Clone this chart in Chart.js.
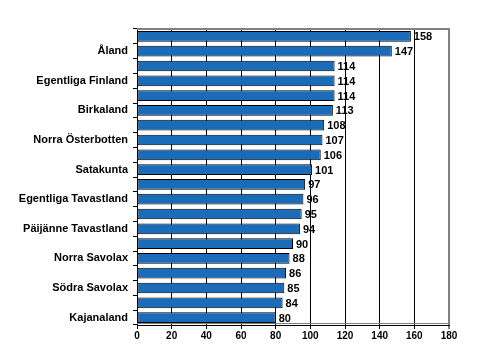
<!DOCTYPE html>
<html>
<head>
<meta charset="utf-8">
<script src="https://cdn.jsdelivr.net/npm/chart.js@4/dist/chart.umd.min.js"></script>
<style>
  html, body { margin: 0; padding: 0; background: #ffffff; }
  #wrap { width: 504px; height: 349px; }
</style>
</head>
<body>
<div id="wrap"><canvas id="c" width="504" height="349"></canvas></div>
<script>
// Regions, ranked by index value (only every second name is printed on the axis)
const regions = [
  'Nyland', 'Åland', 'Östra Nyland', 'Egentliga Finland', 'Österbotten',
  'Birkaland', 'Kymmenedalen', 'Norra Österbotten', 'Södra Karelen', 'Satakunta',
  'Mellersta Finland', 'Egentliga Tavastland', 'Mellersta Österbotten', 'Päijänne Tavastland', 'Lappland',
  'Norra Savolax', 'Södra Österbotten', 'Södra Savolax', 'Norra Karelen', 'Kajanaland'
];
const indexValues = [158, 147, 114, 114, 114, 113, 108, 107, 106, 101, 97, 96, 95, 94, 90, 88, 86, 85, 84, 80];
const xTicks = [0, 20, 40, 60, 80, 100, 120, 140, 160, 180];

const FONT = "'Liberation Sans', Arial, sans-serif";

// Value labels at the end of each bar
const valueLabels = {
  id: 'valueLabels',
  afterDatasetsDraw(chart) {
    const ctx = chart.ctx;
    const meta = chart.getDatasetMeta(0);
    ctx.save();
    ctx.font = 'bold 11px ' + FONT;
    ctx.fillStyle = '#000000';
    ctx.textAlign = 'left';
    ctx.textBaseline = 'middle';
    meta.data.forEach((bar, i) => {
      ctx.fillText(String(chart.data.datasets[0].data[i]), bar.x + 3, bar.y + 1);
    });
    ctx.restore();
  }
};

// Grey frame along the top and bottom of the plot area
const plotFrame = {
  id: 'plotFrame',
  beforeDatasetsDraw(chart) {
    const { ctx, chartArea: a } = chart;
    ctx.save();
    ctx.strokeStyle = '#808080';
    ctx.lineWidth = 2;
    ctx.beginPath();
    ctx.moveTo(a.left, a.top);
    ctx.lineTo(a.right + 1, a.top);
    ctx.stroke();
    ctx.lineWidth = 1;
    ctx.beginPath();
    ctx.moveTo(a.left, a.bottom - 1.5);
    ctx.lineTo(a.right, a.bottom - 1.5);
    ctx.stroke();
    ctx.restore();
  }
};

new Chart(document.getElementById('c'), {
  type: 'bar',
  data: {
    labels: regions,
    datasets: [{
      data: indexValues,
      backgroundColor: '#1a6bb8',
      borderColor: '#000000',
      borderWidth: 1,
      borderSkipped: false,
      barPercentage: 0.72,
      categoryPercentage: 1.0
    }]
  },
  options: {
    indexAxis: 'y',
    responsive: false,
    animation: false,
    devicePixelRatio: 1,
    layout: { padding: { top: 29, right: 55, left: 0, bottom: 0 } },
    plugins: {
      legend: { display: false },
      tooltip: { enabled: false }
    },
    scales: {
      x: {
        min: 0,
        max: 180,
        afterBuildTicks(scale) { scale.ticks = xTicks.map(v => ({ value: v })); },
        afterFit(scale) { scale.height = 24; },
        grid: {
          color: (c) => (c.tick && c.tick.value === 180 ? '#808080' : '#000000'),
          lineWidth: (c) => (c.tick && c.tick.value === 180 ? 2 : 1),
          tickLength: 4,
          drawTicks: true
        },
        border: { display: true, color: '#000000', width: 1 },
        ticks: {
          color: '#000000',
          font: { family: FONT, size: 10, weight: 'bold' },
          padding: 1,
          maxRotation: 0
        }
      },
      y: {
        afterFit(scale) { scale.width = 137; },
        grid: {
          drawOnChartArea: false,
          drawTicks: true,
          tickLength: 4,
          offset: true,
          color: '#000000'
        },
        border: { display: true, color: '#000000', width: 1 },
        ticks: {
          autoSkip: false,
          color: '#000000',
          font: { family: FONT, size: 11, weight: 'bold' },
          padding: 5,
          callback: function (value, index) {
            return index % 2 === 1 ? this.getLabelForValue(value) : '';
          }
        }
      }
    }
  },
  plugins: [plotFrame, valueLabels]
});
</script>
</body>
</html>
